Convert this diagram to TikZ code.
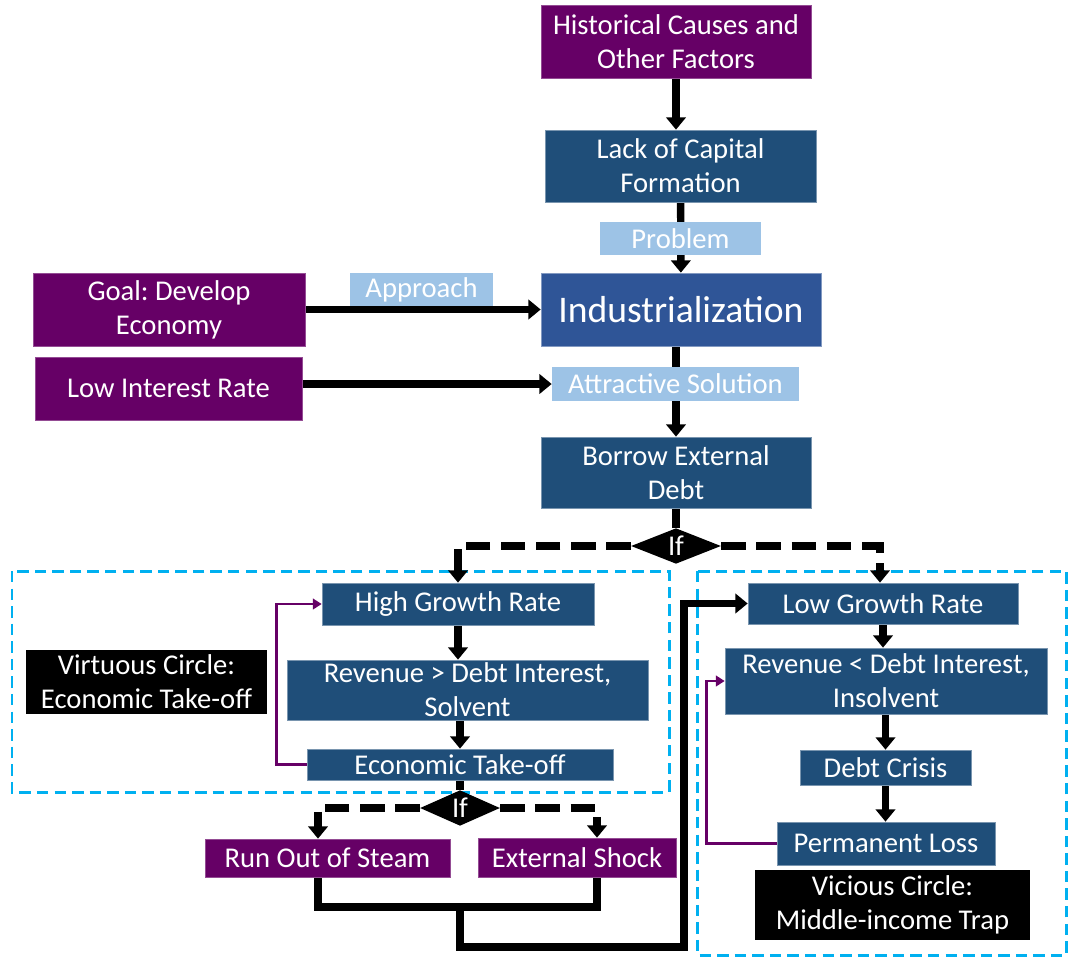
\documentclass[tikz,border=0pt]{standalone}
\usepackage{fontspec}
\setmainfont{Carlito}
\definecolor{dpurple}{RGB}{102,0,102}
\definecolor{dblue}{RGB}{31,78,121}
\definecolor{mblue}{RGB}{47,85,151}
\definecolor{lblue}{RGB}{157,195,230}
\definecolor{zonecyan}{RGB}{0,176,240}
\usetikzlibrary{arrows.meta,positioning,shapes.geometric,backgrounds}
\frenchspacing

\begin{document}
\begin{tikzpicture}[x=0.02cm,y=-0.02cm,
  txt/.style={text=white,font=\fontsize{16.3}{19.5}\selectfont,align=center,inner sep=0pt},
  causebox/.style={txt,fill=dpurple,draw=dpurple!70!white,line width=0.4pt},
  stepbox/.style={txt,fill=dblue,draw=dblue!60!white,line width=0.4pt},
  tagbox/.style={txt,fill=lblue},
  notebox/.style={txt,fill=black},
  ifbox/.style={txt,diamond,fill=black},
  flow/.style={line width=4.2pt,-{Triangle[width=11pt,length=7pt]}},
  plain/.style={line width=4.2pt},
  choice/.style={flow,dash pattern=on 14pt off 6pt},
  loopback/.style={dpurple,line width=1.4pt,-{Triangle[width=6pt,length=5pt]}},
  zone/.style={zonecyan,line width=1.7pt,dash pattern=on 6.5pt off 3.5pt}]
  \useasboundingbox (0,0) rectangle (1068,957);

  % top chain
  \node[causebox,minimum width=5.4cm,minimum height=1.46cm] (hist) at (676,41.5) {Historical Causes and\\Other Factors};
  \node[stepbox,minimum width=5.42cm,minimum height=1.44cm] (lack) at (680.5,166) {Lack of Capital\\Formation};
  \node[tagbox,minimum width=3.22cm,minimum height=0.66cm] (problem) at (680.5,238.5) {Problem};
  \node[causebox,minimum width=5.44cm,minimum height=1.46cm] (goal) at (169,309.5) {Goal: Develop\\Economy};
  \node[tagbox,minimum width=2.86cm,minimum height=0.66cm] (approach) at (421.5,289.5) {Approach};
  \node[txt,fill=mblue,draw=mblue!60!white,line width=0.4pt,font=\fontsize{21.4}{25}\selectfont,
    minimum width=5.6cm,minimum height=1.46cm] (indus) at (681,309.5) {Industrialization};
  \node[causebox,minimum width=5.34cm,minimum height=1.26cm] (lowint) at (168.5,388.5) {Low Interest Rate};
  \node[tagbox,minimum width=4.94cm,minimum height=0.68cm] (attr) at (675.5,384) {Attractive Solution};
  \node[stepbox,minimum width=5.4cm,minimum height=1.42cm] (borrow) at (676,472.5) {Borrow External\\Debt};
  \node[ifbox,minimum width=1.8cm,minimum height=0.66cm] (if1) at (676,546) {If};

  % virtuous side
  \node[stepbox,minimum width=5.44cm,minimum height=0.84cm] (high) at (458,604) {High Growth Rate};
  \node[stepbox,minimum width=7.22cm,minimum height=1.2cm] (rev1) at (467.5,690) {Revenue > Debt Interest,\\Solvent};
  \node[stepbox,minimum width=6.12cm,minimum height=0.62cm] (take) at (460,764.5) {Economic Take-off};
  \node[notebox,minimum width=4.82cm,minimum height=1.28cm] (virt) at (146.5,682) {Virtuous Circle:\\Economic Take-off};
  \node[ifbox,minimum width=1.6cm,minimum height=0.56cm] (if2) at (460,808) {If};
  \node[causebox,minimum width=4.9cm,minimum height=0.76cm] (runout) at (327.5,858) {Run Out of Steam};
  \node[causebox,minimum width=3.96cm,minimum height=0.78cm] (shock) at (577,857.5) {External Shock};

  % vicious side
  \node[stepbox,minimum width=5.4cm,minimum height=0.82cm] (low) at (883,603.5) {Low Growth Rate};
  \node[stepbox,minimum width=6.44cm,minimum height=1.32cm] (rev2) at (886,681) {Revenue < Debt Interest,\\Insolvent};
  \node[stepbox,minimum width=3.42cm,minimum height=0.7cm] (crisis) at (885.5,767.5) {Debt Crisis};
  \node[stepbox,minimum width=4.36cm,minimum height=0.86cm] (perm) at (886,843.5) {Permanent Loss};
  \node[notebox,minimum width=5.5cm,minimum height=1.4cm] (vic) at (892.5,905) {Vicious Circle:\\Middle-income Trap};

  \coordinate (merge) at (460,907);
  \coordinate (turn) at (684,947);

  \begin{pgfonlayer}{background}
    \draw[zone] (12,571) rectangle (669,792);
    \draw[zone] (697,571) rectangle (1066,955);
    \draw[flow] (hist) -- (hist |- lack.north);
    \draw[flow] (lack) -- (indus);
    \draw[flow] (goal) -- (indus);
    \draw[flow] (lowint.east |- attr) -- (attr.west);
    \draw[flow] (indus.south -| borrow) -- (borrow);
    \draw[plain] (borrow) -- (if1);
    \draw[choice] (if1.west) -| (high.north);
    \draw[choice] (if1.east) -| ([xshift=-0.06cm]low.north);
    \draw[flow] (high) -- (high |- rev1.north);
    \draw[flow] (rev1.south -| take) -- (take);
    \draw[loopback] (take.west) -- ++(-30,0) |- (high.west);
    \draw[plain] (take) -- (if2);
    \draw[choice] (if2.west) -| ([xshift=-0.19cm]runout.north);
    \draw[choice] (if2.east) -| ([xshift=0.4cm]shock.north);
    \draw[plain] ([xshift=-0.19cm]runout.south) |- (merge) -| ([xshift=0.4cm]shock.south);
    \draw[flow] (merge) |- (turn) |- (low.west);
    \draw[flow] (low) -- (low |- rev2.north);
    \draw[flow] (rev2.south -| crisis) -- (crisis);
    \draw[flow] (crisis) -- (crisis |- perm.north);
    \draw[loopback] (perm.west) -- ++(-70,0) |- (rev2.west);
  \end{pgfonlayer}
\end{tikzpicture}
\end{document}
